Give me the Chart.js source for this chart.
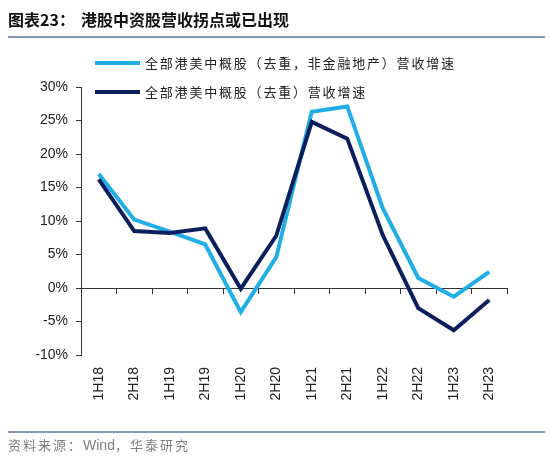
<!DOCTYPE html>
<html>
<head>
<meta charset="utf-8">
<script src="https://cdn.jsdelivr.net/npm/chart.js@4/dist/chart.umd.min.js"></script>
<style>
  html, body { margin: 0; padding: 0; background: #fff; }
  #wrap { position: relative; width: 550px; height: 465px; overflow: hidden; background: #fff; }
  #title { position: absolute; left: 8px; top: 8px; font-family: "Noto Sans CJK SC", sans-serif; font-weight: bold; font-size: 16px; color: #111; line-height: 22px; white-space: nowrap; }
  #title .gap { display: inline-block; width: 6px; }
  #tline { position: absolute; left: 8px; top: 36px; width: 537px; height: 2px; background: #8496b0; }
  #fline { position: absolute; left: 8px; top: 431px; width: 537px; height: 2px; background: #8496b0; }
  #foot { position: absolute; left: 8px; top: 436px; font-family: "Noto Sans CJK SC", sans-serif; font-size: 13px; color: #7f7f7f; line-height: 18px; white-space: nowrap; }
  #foot .cj { letter-spacing: 2px; }
  #foot .en { font-family: "Liberation Sans", Arial, sans-serif; font-size: 14px; letter-spacing: 0; }
  #chartbox { position: absolute; left: 0; top: 0; width: 550px; height: 465px; }
  .leg { position: absolute; left: 95px; height: 18px; font-family: "Noto Sans CJK SC", sans-serif; font-size: 13px; letter-spacing: 1.8px; color: #222; line-height: 18px; white-space: nowrap; }
  .leg .sw { display: inline-block; width: 45px; height: 4px; vertical-align: middle; margin-right: 5px; position: relative; top: -1px; }
</style>
</head>
<body>
<div id="wrap">
  <div id="chartbox"><canvas id="c" width="550" height="465"></canvas></div>
  <div id="title">图表23：<span class="gap"></span>港股中资股营收拐点或已出现</div>
  <div id="tline"></div>
  <div class="leg" id="leg1" style="top:54px;"><span class="sw" style="background:#21aee6"></span>全部港美中概股（去重，非金融地产）营收增速</div>
  <div class="leg" id="leg2" style="top:83px;"><span class="sw" style="background:#0c1f5c"></span>全部港美中概股（去重）营收增速</div>
  <div id="fline"></div>
  <div id="foot"><span class="cj">资料来源：</span><span class="en">Wind</span><span class="cj">，华泰研究</span></div>
</div>
<script>
const categories = ["1H18","2H18","1H19","2H19","1H20","2H20","1H21","2H21","1H22","2H22","1H23","2H23"];
const seriesNonFin = [17.0, 10.2, 8.4, 6.5, -3.6, 4.6, 26.3, 27.1, 11.9, 1.5, -1.3, 2.4];
const seriesAll = [16.2, 8.5, 8.2, 8.9, -0.1, 7.8, 24.8, 22.3, 7.9, -3.0, -6.3, -1.8];
const seriesNames = ["全部港美中概股（去重，非金融地产）营收增速", "全部港美中概股（去重）营收增速"];
const yTicks = [-10, -5, 0, 5, 10, 15, 20, 25, 30];

const axisFont = { family: "'Liberation Sans', Arial, sans-serif", size: 14 };

new Chart(document.getElementById('c'), {
  type: 'line',
  data: {
    labels: categories,
    datasets: [
      { label: seriesNames[1], data: seriesAll, borderColor: '#0c1f5c', backgroundColor: '#0c1f5c', borderWidth: 4, pointRadius: 0, tension: 0, fill: false },
      { label: seriesNames[0], data: seriesNonFin, borderColor: '#21aee6', backgroundColor: '#21aee6', borderWidth: 4, pointRadius: 0, tension: 0, fill: false }
    ]
  },
  options: {
    responsive: false,
    animation: false,
    devicePixelRatio: 1,
    layout: { padding: { left: 0, right: 43, top: 87, bottom: 45 } },
    plugins: { legend: { display: false }, tooltip: { enabled: false }, title: { display: false } },
    scales: {
      x: {
        type: 'category',
        position: 'bottom',
        offset: true,
        grid: { display: false, drawTicks: false },
        border: { display: false },
        ticks: { autoSkip: false, minRotation: 90, maxRotation: 90, padding: 12, color: '#222', font: axisFont },
        afterFit: (s) => { s.height = 65; }
      },
      x0: {
        type: 'category',
        position: { y: 0 },
        offset: true,
        grid: { offset: true, drawOnChartArea: false, drawTicks: true, tickLength: 5, color: '#333', lineWidth: 1 },
        border: { display: true, color: '#333', width: 1 },
        ticks: { display: false }
      },
      y: {
        type: 'linear',
        min: -10, max: 30,
        afterBuildTicks: (s) => { s.ticks = yTicks.map(v => ({ value: v })); },
        grid: { drawOnChartArea: false, drawTicks: true, tickLength: 5, color: '#333', lineWidth: 1 },
        border: { display: true, color: '#333', width: 1 },
        ticks: { padding: 8, color: '#222', font: axisFont, callback: (v) => v + '%' },
        afterFit: (s) => { s.width = 81; }
      }
    }
  }
});
</script>
</body>
</html>
